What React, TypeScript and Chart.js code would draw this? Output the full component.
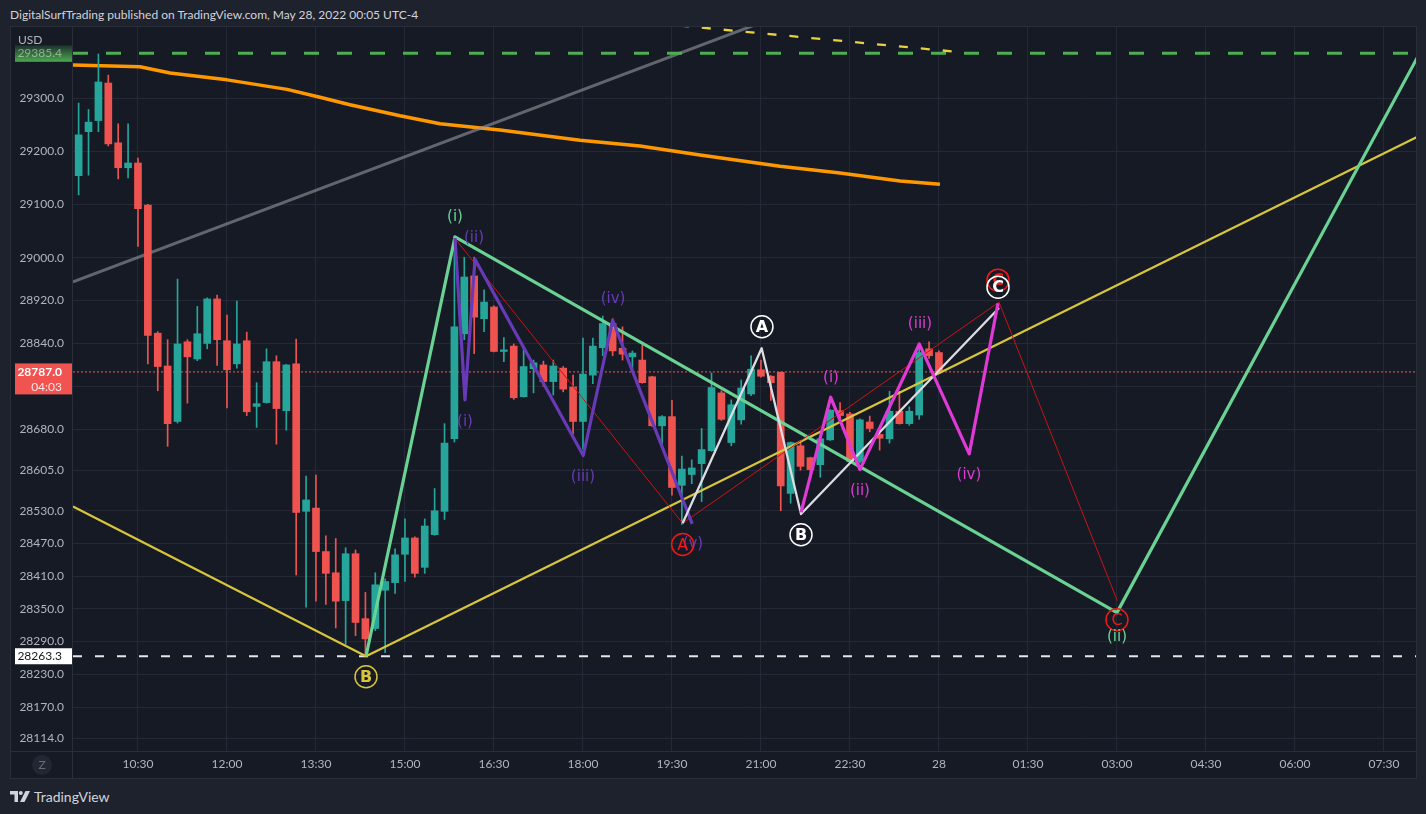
import React, { useEffect, useRef } from "react";
import { Chart, registerables } from "chart.js";
Chart.register(...registerables);

const FONT = "Lato, 'Liberation Sans', sans-serif";
const LABEL_FONT = "'DejaVu Sans', sans-serif";
const BG = "#161a25";
const OUTER = "#1e222d";
const GRID = "#252937";
const FRAME = "#2a2e39";
const AXIS_TEXT = "#b2b5be";
const UP = "#26a69a";
const DOWN = "#ef5350";
const MINT = "#6ad394";
const YELLOW = "#d8c63a";
const PURPLE = "#673ab7";
const MAGENTA = "#e03ad6";
const RED_THIN = "#c81414";
const RED_LABEL = "#f01818";
const WHITE_LINE = "#dcdde2";
const ORANGE = "#ff9800";

// candles: 10-minute bars starting 09:30 (minutes since midnight, May 27)
const CANDLE_START = 570;
const CANDLE_STEP = 10;
const opens = [29154, 29237, 29258, 29329, 29216, 29169, 29178, 29099, 28859, 28798, 28695, 28843, 28811, 28840, 28923, 28845, 28802, 28845, 28723, 28730, 28806, 28715, 28802, 28529, 28535, 28455, 28416, 28365, 28451, 28332, 28314, 28384, 28398, 28450, 28480, 28426, 28486, 28529, 28663, 28858, 28966, 28886, 28908, 28825, 28835, 28741, 28793, 28800, 28769, 28794, 28759, 28695, 28781, 28832, 28877, 28831, 28815, 28809, 28778, 28687, 28704, 28577, 28597, 28617, 28641, 28748, 28656, 28698, 28746, 28791, 28779, 28786, 28562, 28650, 28628, 28615, 28661, 28715, 28709, 28621, 28694, 28671, 28663, 28714, 28691, 28707, 28830, 28823];
const highs = [29291, 29279, 29384, 29344, 29252, 29252, 29187, 29100, 28862, 28847, 28960, 28847, 28909, 28925, 28930, 28893, 28919, 28861, 28767, 28830, 28817, 28801, 28848, 28594, 28596, 28484, 28479, 28462, 28458, 28380, 28416, 28405, 28460, 28515, 28482, 28515, 28571, 28691, 29040, 29001, 29001, 28940, 28910, 28851, 28839, 28833, 28809, 28807, 28809, 28797, 28781, 28850, 28850, 28891, 28886, 28871, 28826, 28837, 28779, 28706, 28734, 28631, 28624, 28682, 28785, 28752, 28735, 28772, 28817, 28809, 28780, 28787, 28657, 28660, 28629, 28664, 28717, 28730, 28712, 28700, 28705, 28674, 28751, 28751, 28722, 28837, 28843, 28826];
const lows = [29118, 29155, 29237, 29210, 29148, 29150, 29021, 28802, 28752, 28649, 28692, 28729, 28808, 28830, 28799, 28720, 28794, 28706, 28684, 28729, 28653, 28679, 28412, 28353, 28364, 28358, 28315, 28285, 28301, 28263, 28310, 28270, 28378, 28400, 28408, 28415, 28485, 28514, 28657, 28847, 28821, 28862, 28824, 28806, 28736, 28740, 28748, 28760, 28744, 28750, 28672, 28644, 28765, 28817, 28817, 28809, 28791, 28766, 28686, 28649, 28559, 28505, 28580, 28547, 28640, 28697, 28650, 28690, 28743, 28777, 28734, 28530, 28544, 28605, 28589, 28592, 28660, 28700, 28620, 28618, 28676, 28642, 28655, 28690, 28688, 28699, 28812, 28785];
const closes = [29231, 29255, 29331, 29214, 29169, 29178, 29092, 28855, 28797, 28691, 28839, 28815, 28858, 28923, 28847, 28791, 28839, 28713, 28728, 28806, 28719, 28800, 28527, 28550, 28455, 28415, 28364, 28451, 28325, 28295, 28394, 28400, 28449, 28480, 28415, 28502, 28530, 28655, 28871, 28964, 28889, 28917, 28825, 28828, 28739, 28797, 28804, 28769, 28798, 28755, 28695, 28783, 28835, 28877, 28826, 28820, 28822, 28767, 28687, 28704, 28573, 28607, 28609, 28643, 28758, 28699, 28726, 28757, 28792, 28779, 28767, 28576, 28656, 28612, 28606, 28663, 28716, 28706, 28621, 28698, 28682, 28664, 28714, 28691, 28714, 28823, 28817, 28787];

// axes
const Y_MIN = 28090.9;
const Y_MAX = 29435.3;
const X_MIN = 564.3;
const X_MAX = 1922.4;
const yTickValues = [29300, 29200, 29100, 29000, 28920, 28840, 28760, 28680, 28605, 28530, 28470, 28410, 28350, 28290, 28230, 28170, 28114];
const xTickValues = [630, 720, 810, 900, 990, 1080, 1170, 1260, 1350, 1440, 1530, 1620, 1710, 1800, 1890];
const xTickLabels = ["10:30", "12:00", "13:30", "15:00", "16:30", "18:00", "19:30", "21:00", "22:30", "28", "01:30", "03:00", "04:30", "06:00", "07:30"];

// price levels
const highLevel = 29385.4;
const lowLevel = 28263.3;
const lastPrice = 28787.0;
const countdown = "04:03";

// moving average
const maTimes = [564.3, 632, 662.4, 720, 780.7, 814, 844.4, 895, 935.4, 996, 1077, 1137.6, 1198.3, 1279.2, 1339.9, 1400.6, 1441];
const maPrices = [29363, 29360, 29348, 29335, 29317, 29302, 29288, 29267, 29252, 29240, 29221, 29210, 29193, 29172, 29159, 29144, 29138];

// drawn lines
const grayTimes = [564.3, 1269];
const grayPrices = [28955, 29450];
const yellowDashTimes = [1178, 1453];
const yellowDashPrices = [29438, 29389];
const yellowTimes = [564.3, 860.6, 1930];
const yellowPrices = [28538, 28263.3, 29233];
const mintTimes = [860.6, 950.6, 1620, 1930];
const mintPrices = [28263.3, 29039, 28343, 29399];
const redTimes = [950.6, 1180.8, 1500.7, 1620.3];
const redPrices = [29036, 28507, 28917, 28365];
const purpleTimes = [950.6, 960.7, 970.8, 1080.3, 1110, 1190.5];
const purplePrices = [29037, 28735, 28997, 28632, 28883, 28506];
const whiteTimes = [1180.8, 1260.7, 1300.5, 1500.7];
const whitePrices = [28507, 28831, 28524, 28906];
const magentaTimes = [1300.5, 1330.5, 1360.1, 1420.1, 1470.6, 1499.7];
const magentaPrices = [28527, 28740, 28606, 28839, 28635, 28915];

// wave labels
const labelTexts = ["(i)", "B", "(i)", "(ii)", "(iii)", "(iv)", "(v)", "A", "A", "B", "(i)", "(ii)", "(iii)", "(iv)", "C", "C", "C", "(ii)"];
const labelTimes = [950.6, 860.6, 960.7, 969.8, 1080, 1110.4, 1191.2, 1180.8, 1261, 1300.5, 1330.8, 1360.1, 1420.8, 1470.3, 1499.7, 1499.7, 1620, 1620];
const labelPrices = [29076, 28226, 28694, 29037, 28593, 28923, 28468, 28468, 28871, 28486, 28776, 28567, 28876, 28596, 28958, 28945, 28330, 28299];
const labelColors = [MINT, YELLOW, PURPLE, PURPLE, PURPLE, PURPLE, PURPLE, RED_LABEL, "#ffffff", "#ffffff", MAGENTA, MAGENTA, MAGENTA, MAGENTA, RED_LABEL, "#ffffff", RED_LABEL, MINT];
const labelCircled = [false, true, false, false, false, false, false, true, true, true, false, false, false, false, true, true, true, false];
const labelBold = [false, true, false, false, false, false, false, false, true, true, false, false, false, false, true, true, false, false];

function lineDataset(label: string, times: number[], prices: number[], color: string, width: number, order: number, dash: number[] = []) {
  return {
    type: "line" as const,
    label,
    data: times.map((t, i) => ({ x: t, y: prices[i] })),
    borderColor: color,
    backgroundColor: color,
    borderWidth: width,
    borderDash: dash,
    pointRadius: 0,
    pointHoverRadius: 0,
    fill: false,
    tension: 0,
    order,
    clip: 0,
    borderJoinStyle: "round" as const,
  };
}

export default function App() {
  const ref = useRef<HTMLCanvasElement>(null);

  useEffect(() => {
    document.body.style.margin = "0";
    document.body.style.background = OUTER;
    const canvas = ref.current;
    if (!canvas) return;

    const candleTimes = opens.map((_, i) => CANDLE_START + i * CANDLE_STEP);
    const colors = opens.map((o, i) => (closes[i] >= o ? UP : DOWN));

    const bgPlugin = {
      id: "bgFill",
      beforeDraw(chart: any) {
        const { ctx, width, height } = chart;
        ctx.save();
        ctx.fillStyle = BG;
        ctx.fillRect(0, 0, width, height);
        ctx.restore();
      },
    };

    const overlayPlugin = {
      id: "overlay",
      afterDatasetsDraw(chart: any) {
        const { ctx, chartArea: ca, scales } = chart;
        ctx.save();
        ctx.beginPath();
        ctx.rect(ca.left, ca.top, ca.right - ca.left, ca.bottom - ca.top);
        ctx.clip();
        labelTexts.forEach((txt, i) => {
          const px = scales.x.getPixelForValue(labelTimes[i]);
          const py = scales.y.getPixelForValue(labelPrices[i]);
          ctx.fillStyle = labelColors[i];
          ctx.strokeStyle = labelColors[i];
          ctx.textAlign = "center";
          ctx.textBaseline = "middle";
          if (labelCircled[i]) {
            ctx.lineWidth = 1.5;
            ctx.beginPath();
            ctx.arc(px, py, 11, 0, Math.PI * 2);
            ctx.stroke();
            ctx.font = `${labelBold[i] ? "bold " : ""}16px ${LABEL_FONT}`;
            ctx.fillText(txt, px, py + 1);
          } else {
            ctx.font = `15px ${LABEL_FONT}`;
            ctx.fillText(txt, px, py);
          }
        });
        ctx.restore();
      },
      afterDraw(chart: any) {
        const { ctx, chartArea: ca, width, height, scales } = chart;
        const ys = scales.y;
        ctx.save();
        // frame
        ctx.strokeStyle = FRAME;
        ctx.lineWidth = 1;
        ctx.strokeRect(0.5, 0.5, width - 1, height - 1);
        ctx.beginPath();
        ctx.moveTo(Math.round(ca.left) - 0.5, 0);
        ctx.lineTo(Math.round(ca.left) - 0.5, height);
        ctx.moveTo(0, Math.round(ca.bottom) + 0.5);
        ctx.lineTo(width, Math.round(ca.bottom) + 0.5);
        ctx.stroke();

        const boxL = 5;
        const boxR = Math.round(ca.left) - 1;
        const textR = boxR - 10;

        // high level label (green)
        const gy = ys.getPixelForValue(highLevel);
        const grad = ctx.createLinearGradient(0, gy - 8, 0, gy + 8);
        grad.addColorStop(0, "rgba(76,175,80,0.15)");
        grad.addColorStop(1, "rgba(76,175,80,0.95)");
        ctx.fillStyle = grad;
        ctx.fillRect(boxL, gy - 8, boxR - boxL, 16.5);
        ctx.font = `12px ${FONT}`;
        ctx.textAlign = "right";
        ctx.textBaseline = "middle";
        ctx.fillStyle = "rgba(255,255,255,0.45)";
        ctx.fillText(highLevel.toFixed(1), textR, gy);

        // USD
        ctx.textAlign = "left";
        ctx.fillStyle = AXIS_TEXT;
        ctx.font = `12px ${FONT}`;
        ctx.fillText("USD", 8, 14);

        // last price label
        const ry = ys.getPixelForValue(lastPrice);
        ctx.fillStyle = "#f05350";
        ctx.fillRect(boxL, ry - 8.5, boxR - boxL, 31);
        ctx.textAlign = "right";
        ctx.fillStyle = "#ffffff";
        ctx.font = `bold 12px ${FONT}`;
        ctx.fillText(lastPrice.toFixed(1), textR, ry);
        ctx.font = `12px ${FONT}`;
        ctx.fillStyle = "rgba(255,255,255,0.85)";
        ctx.fillText(countdown, textR, ry + 15);

        // low level label (white)
        const wy = ys.getPixelForValue(lowLevel);
        ctx.fillStyle = "#ffffff";
        ctx.fillRect(boxL, wy - 8, boxR - boxL, 16);
        ctx.fillStyle = "#131722";
        ctx.font = `12px ${FONT}`;
        ctx.fillText(lowLevel.toFixed(1), textR, wy);

        // Z button
        const zy = (Math.round(ca.bottom) + height) / 2;
        ctx.fillStyle = "#232734";
        ctx.beginPath();
        ctx.arc(32, zy, 10, 0, Math.PI * 2);
        ctx.fill();
        ctx.fillStyle = "#6a6d78";
        ctx.textAlign = "center";
        ctx.font = `12px ${FONT}`;
        ctx.fillText("Z", 32, zy);
        ctx.restore();
      },
    };

    const chart = new Chart(canvas, {
      type: "line",
      data: {
        datasets: [
          lineDataset("magenta", magentaTimes, magentaPrices, MAGENTA, 3.2, 1),
          lineDataset("white", whiteTimes, whitePrices, WHITE_LINE, 2.3, 2),
          lineDataset("purple", purpleTimes, purplePrices, PURPLE, 3.2, 3),
          lineDataset("red", redTimes, redPrices, RED_THIN, 1, 4),
          lineDataset("mint", mintTimes, mintPrices, MINT, 3.2, 5),
          lineDataset("yellow", yellowTimes, yellowPrices, YELLOW, 2.2, 6),
          lineDataset("yellowDash", yellowDashTimes, yellowDashPrices, "#e8d23c", 2.3, 7, [9, 13]),
          lineDataset("low", [X_MIN, X_MAX], [lowLevel, lowLevel], "#e6e6e6", 2, 8, [9, 13]),
          {
            type: "bar" as const,
            label: "bodies",
            data: candleTimes.map((t, i) => ({ x: t, y: [opens[i], closes[i]] })),
            backgroundColor: colors,
            borderWidth: 0,
            barThickness: 7,
            maxBarThickness: 7,
            minBarLength: 1,
            grouped: false,
            order: 9,
          },
          {
            type: "bar" as const,
            label: "wicks",
            data: candleTimes.map((t, i) => ({ x: t, y: [lows[i], highs[i]] })),
            backgroundColor: colors,
            borderWidth: 0,
            barThickness: 1,
            maxBarThickness: 1,
            grouped: false,
            order: 10,
          },
          lineDataset("last", [X_MIN, X_MAX], [lastPrice, lastPrice], "#f45a55", 1, 11, [2, 2]),
          lineDataset("high", [X_MIN, X_MAX], [highLevel, highLevel], "#4caf50", 3, 12, [15, 18]),
          lineDataset("gray", grayTimes, grayPrices, "rgba(150,152,160,0.6)", 3, 13),
          lineDataset("ma", maTimes, maPrices, ORANGE, 3.5, 14),
        ] as any,
      },
      options: {
        responsive: false,
        animation: false,
        events: [],
        layout: { padding: { top: 1, right: 1, left: 0, bottom: 0 } },
        plugins: { legend: { display: false }, tooltip: { enabled: false } },
        scales: {
          x: {
            type: "linear",
            min: X_MIN,
            max: X_MAX,
            bounds: "data",
            offset: false,
            grid: { color: GRID, drawTicks: false, offset: false },
            border: { display: false },
            ticks: {
              color: AXIS_TEXT,
              font: { size: 12, family: FONT },
              padding: 6,
              autoSkip: false,
              maxRotation: 0,
              callback: (v: any) => {
                const idx = xTickValues.indexOf(Number(v));
                return idx >= 0 ? xTickLabels[idx] : "";
              },
            },
            afterBuildTicks: (s: any) => {
              s.ticks = xTickValues.map((v) => ({ value: v }));
              s.min = X_MIN;
              s.max = X_MAX;
            },
            afterFit: (s: any) => {
              s.height = 28;
              s.paddingLeft = 0;
              s.paddingRight = 0;
            },
          },
          y: {
            type: "logarithmic",
            position: "left",
            min: Y_MIN,
            max: Y_MAX,
            bounds: "data",
            grid: { color: GRID, drawTicks: false },
            border: { display: false },
            ticks: {
              color: AXIS_TEXT,
              font: { size: 12, family: FONT },
              padding: 9,
              autoSkip: false,
              callback: (v: any) => (Number(v) === 28760 ? "" : Number(v).toFixed(1)),
            },
            afterBuildTicks: (s: any) => {
              s.ticks = yTickValues.map((v) => ({ value: v }));
              s.min = Y_MIN;
              s.max = Y_MAX;
            },
            afterFit: (s: any) => {
              s.width = 63;
              s.paddingTop = 0;
              s.paddingBottom = 0;
            },
          },
        },
      } as any,
      plugins: [bgPlugin, overlayPlugin],
    });

    return () => chart.destroy();
  }, []);

  return (
    <div style={{ position: "relative", width: 1426, height: 814, background: OUTER, overflow: "hidden", fontFamily: FONT }}>
      <div style={{ position: "absolute", left: 10, top: 7, color: "#d1d4dc", fontSize: 12, lineHeight: "16px", whiteSpace: "nowrap" }}>
        DigitalSurfTrading published on TradingView.com, May 28, 2022 00:05 UTC-4
      </div>
      <canvas ref={ref} width={1407} height={753} style={{ position: "absolute", left: 10, top: 26, width: 1407, height: 753 }} />
      <svg style={{ position: "absolute", left: 10, top: 791 }} width={21} height={12} viewBox="0 0 21 12">
        <path d="M0 0 H8 V11 H4.5 V3.5 H0 Z" fill="#d1d4dc" />
        <circle cx={10.8} cy={2} r={2} fill="#d1d4dc" />
        <path d="M15.5 0 H20 L14.5 11 H10 Z" fill="#d1d4dc" />
      </svg>
      <div style={{ position: "absolute", left: 34, top: 789, color: "#d1d4dc", fontSize: 14, lineHeight: "16px", whiteSpace: "nowrap" }}>
        TradingView
      </div>
    </div>
  );
}
